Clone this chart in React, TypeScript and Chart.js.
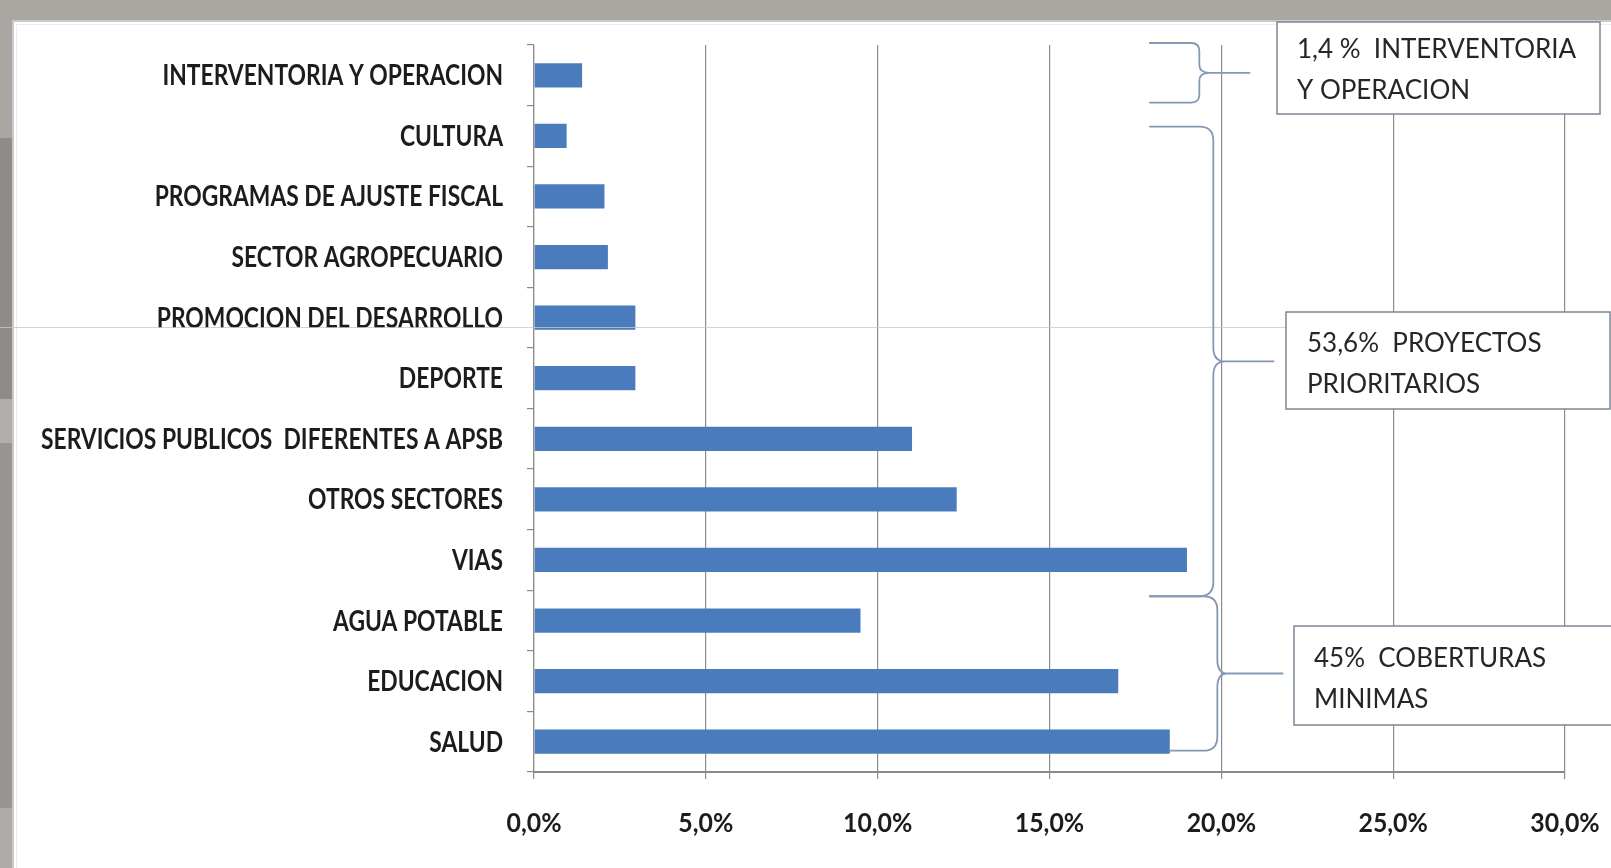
import React, { useEffect, useRef } from "react";
import { Chart, registerables } from "chart.js";

Chart.register(...registerables);

const categories = [
  "INTERVENTORIA Y OPERACION",
  "CULTURA",
  "PROGRAMAS DE AJUSTE FISCAL",
  "SECTOR AGROPECUARIO",
  "PROMOCION DEL DESARROLLO",
  "DEPORTE",
  "SERVICIOS PUBLICOS  DIFERENTES A APSB",
  "OTROS SECTORES",
  "VIAS",
  "AGUA POTABLE",
  "EDUCACION",
  "SALUD",
];
const shares = [1.4, 0.95, 2.05, 2.15, 2.95, 2.95, 11.0, 12.3, 19.0, 9.5, 17.0, 18.5];
const axisTicks = [0, 5, 10, 15, 20, 25, 30];
const noteInterventoria = ["1,4 %  INTERVENTORIA", "Y OPERACION"];
const noteProyectos = ["53,6%  PROYECTOS", "PRIORITARIOS"];
const noteCoberturas = ["45%  COBERTURAS", "MINIMAS"];

const W = 1611;
const H = 868;
const LABEL_FONT = "Lato, 'Liberation Sans', sans-serif";
const NOTE_FONT = "Lato, 'Open Sans', sans-serif";
const BRACE = "#8598b6";
const GRID = "#8c8c8c";

const fmtPct = (v: number) => v.toFixed(1).replace(".", ",") + "%";

const backgroundPlugin = {
  id: "slideBackground",
  beforeDraw(chart: any) {
    const ctx = chart.ctx;
    ctx.save();
    ctx.fillStyle = "#ffffff";
    ctx.fillRect(0, 0, W, H);
    ctx.fillStyle = "#aaa6a2";
    ctx.fillRect(0, 0, W, 20);
    const strip: [number, number, string][] = [
      [0, 138, "#aaa6a2"],
      [138, 399, "#8e8b88"],
      [399, 443, "#b1aeab"],
      [443, 808, "#979491"],
      [808, 868, "#aeaba8"],
    ];
    strip.forEach(([a, b, c]) => {
      ctx.fillStyle = c;
      ctx.fillRect(0, a, 12, b - a);
    });
    ctx.strokeStyle = "#c9c9c9";
    ctx.lineWidth = 2;
    ctx.beginPath();
    ctx.moveTo(13, H);
    ctx.lineTo(13, 21);
    ctx.lineTo(W, 21);
    ctx.stroke();
    ctx.strokeStyle = "#ececec";
    ctx.lineWidth = 1;
    ctx.beginPath();
    ctx.moveTo(16.5, H);
    ctx.lineTo(16.5, 24.5);
    ctx.lineTo(W, 24.5);
    ctx.stroke();
    ctx.restore();
  },
};

function drawBrace(
  ctx: CanvasRenderingContext2D,
  armTopX: number,
  top: number,
  vx: number,
  bottom: number,
  tipX: number,
  lineEnd: number,
  r: number,
  armBottomX: number
) {
  const mid = (top + bottom) / 2;
  ctx.beginPath();
  ctx.moveTo(armTopX, top);
  ctx.lineTo(vx - r, top);
  ctx.quadraticCurveTo(vx, top, vx, top + r);
  ctx.lineTo(vx, mid - r);
  ctx.quadraticCurveTo(vx, mid, tipX, mid);
  ctx.lineTo(lineEnd, mid);
  ctx.moveTo(tipX, mid);
  ctx.quadraticCurveTo(vx, mid, vx, mid + r);
  ctx.lineTo(vx, bottom - r);
  ctx.quadraticCurveTo(vx, bottom, vx - r, bottom);
  ctx.lineTo(armBottomX, bottom);
  ctx.stroke();
}

function drawNote(
  ctx: CanvasRenderingContext2D,
  x: number,
  y: number,
  w: number,
  h: number,
  lines: string[],
  tx: number,
  ty: number
) {
  ctx.fillStyle = "#ffffff";
  ctx.fillRect(x, y, w, h);
  ctx.strokeStyle = "#7c8793";
  ctx.lineWidth = 1.5;
  ctx.strokeRect(x, y, w, h);
  ctx.fillStyle = "#262626";
  ctx.font = `26px ${NOTE_FONT}`;
  ctx.textBaseline = "middle";
  ctx.textAlign = "left";
  lines.forEach((t, i) => ctx.fillText(t, tx, ty + i * 41));
}

function condensedText(
  ctx: CanvasRenderingContext2D,
  text: string,
  x: number,
  y: number,
  sx: number,
  align: CanvasTextAlign
) {
  ctx.save();
  ctx.translate(x, y);
  ctx.scale(sx, 1);
  ctx.textAlign = align;
  ctx.fillText(text, 0, 0);
  ctx.restore();
}

const labelsPlugin = {
  id: "condensedLabels",
  afterDraw(chart: any) {
    const ctx: CanvasRenderingContext2D = chart.ctx;
    const xs = chart.scales.x;
    const ys = chart.scales.y;
    ctx.save();
    ctx.fillStyle = "#1c1c1c";
    ctx.textBaseline = "middle";
    ctx.font = `bold 28px ${LABEL_FONT}`;
    const longest = categories.reduce((a, b) => (b.length > a.length ? b : a));
    const sx = 462 / ctx.measureText(longest).width;
    const labelRight = ys.right - 31;
    categories.forEach((c, i) => {
      condensedText(ctx, c, labelRight, ys.getPixelForTick(i) + 1, sx, "right");
    });
    ctx.font = `bold 27px ${LABEL_FONT}`;
    xs.ticks.forEach((t: any) => {
      condensedText(ctx, fmtPct(t.value), xs.getPixelForValue(t.value), xs.top + 51, 0.92, "center");
    });
    ctx.restore();
  },
};

const overlayPlugin = {
  id: "annotations",
  afterDraw(chart: any) {
    const ctx: CanvasRenderingContext2D = chart.ctx;
    const xs = chart.scales.x;
    const ys = chart.scales.y;
    const band = ys.getPixelForValue(1) - ys.getPixelForValue(0);
    const boundary = (i: number) => ys.getPixelForValue(i) - band / 2;
    const x20 = xs.getPixelForValue(20);
    const armX = xs.getPixelForValue(17.9);
    ctx.save();
    ctx.strokeStyle = "rgba(200,200,200,0.8)";
    ctx.lineWidth = 1;
    ctx.beginPath();
    ctx.moveTo(0, 327.5);
    ctx.lineTo(1290, 327.5);
    ctx.stroke();

    ctx.strokeStyle = BRACE;
    ctx.lineWidth = 1.8;
    drawBrace(ctx, armX, boundary(0) - 2, x20 - 22, boundary(1) - 3, x20 - 12, x20 + 29, 8, armX);
    const b2top = boundary(1) + 21;
    const b2bot = boundary(9) + 6;
    drawBrace(ctx, armX, b2top, x20 - 8, b2bot, x20 + 4, x20 + 53, 14, armX);
    const b3bot = ys.getPixelForValue(11) + 9;
    drawBrace(ctx, armX, b2bot, x20 - 4, b3bot, x20 + 6, x20 + 62, 14, xs.getPixelForValue(shares[11]));

    drawNote(ctx, 1277, 22, 323, 92, noteInterventoria, 1297, 50);
    drawNote(ctx, 1286, 312, 324, 97, noteProyectos, 1307, 344);
    drawNote(ctx, 1294, 626, 330, 99, noteCoberturas, 1314, 659);
    ctx.restore();
  },
};

export default function App() {
  const ref = useRef<HTMLCanvasElement>(null);
  useEffect(() => {
    document.body.style.margin = "0";
    const canvas = ref.current!;
    const chart = new Chart(canvas, {
      type: "bar",
      data: {
        labels: categories,
        datasets: [
          {
            data: shares,
            backgroundColor: "#4a7cbd",
            borderWidth: 0,
            barPercentage: 0.4,
            categoryPercentage: 1,
          },
        ],
      },
      options: {
        indexAxis: "y",
        responsive: false,
        animation: false,
        devicePixelRatio: 1,
        layout: { padding: { top: 45, right: 46, left: 0, bottom: 0 } },
        plugins: {
          legend: { display: false },
          tooltip: { enabled: false },
          title: { display: false },
        },
        scales: {
          x: {
            type: "linear",
            min: 0,
            max: 30,
            afterFit: (s: any) => {
              s.height = 96;
            },
            afterBuildTicks: (s: any) => {
              s.ticks = axisTicks.map((v) => ({ value: v }));
            },
            grid: { color: GRID, lineWidth: 1.2, tickLength: 7, drawTicks: true },
            border: { display: true, color: "#8a8a8a", width: 2 },
            ticks: { display: false },
          },
          y: {
            afterFit: (s: any) => {
              s.width = 534;
            },
            grid: { drawOnChartArea: false, offset: true, tickLength: 7, color: GRID, lineWidth: 1.2 },
            border: { display: true, color: GRID, width: 1.2 },
            ticks: { display: false },
          },
        },
      } as any,
      plugins: [backgroundPlugin, labelsPlugin, overlayPlugin],
    });
    return () => chart.destroy();
  }, []);
  return (
    <div style={{ position: "fixed", left: 0, top: 0, width: W, height: H }}>
      <canvas ref={ref} width={W} height={H} style={{ display: "block", width: W, height: H }} />
    </div>
  );
}
